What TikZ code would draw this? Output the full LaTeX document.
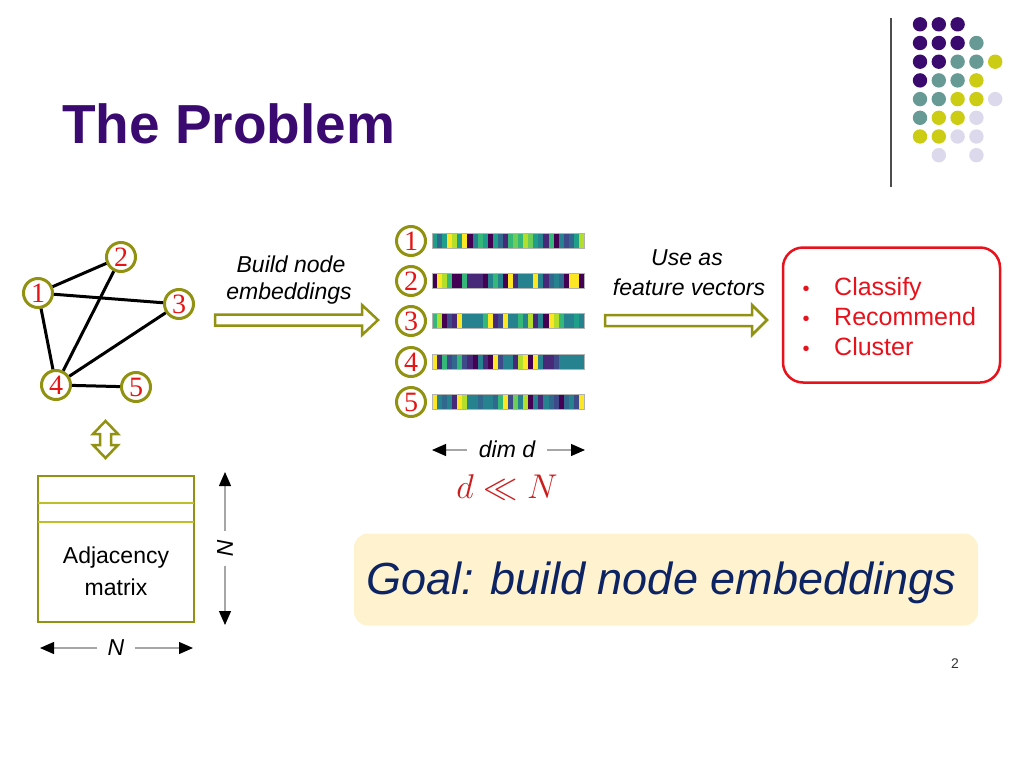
\documentclass[tikz,border=0pt]{standalone}
\usepackage{fontspec}
\setmainfont{Liberation Sans}
\newfontfamily\numfont{Liberation Serif}
\usetikzlibrary{arrows.meta}
\definecolor{titlepurple}{RGB}{59,10,112}
\definecolor{olivec}{RGB}{145,145,18}
\definecolor{olivelight}{RGB}{190,190,40}
\definecolor{numred}{RGB}{230,20,20}
\definecolor{boxred}{RGB}{232,18,28}
\definecolor{mathred}{RGB}{205,30,30}
\definecolor{goalfill}{RGB}{254,243,206}
\definecolor{goaltext}{RGB}{12,35,100}
\definecolor{dP}{RGB}{58,10,110}
\definecolor{dT}{RGB}{103,154,148}
\definecolor{dY}{RGB}{204,204,20}
\definecolor{dL}{RGB}{220,217,236}
\definecolor{v0}{HTML}{440154}
\definecolor{v1}{HTML}{482878}
\definecolor{v2}{HTML}{3E4A89}
\definecolor{v3}{HTML}{31688E}
\definecolor{v4}{HTML}{26828E}
\definecolor{v5}{HTML}{1F9E89}
\definecolor{v6}{HTML}{35B779}
\definecolor{v7}{HTML}{6DCD59}
\definecolor{v8}{HTML}{B4DE2C}
\definecolor{v9}{HTML}{FDE725}
\tikzset{
  gnode/.style={circle, draw=olivec, line width=3pt, fill=white, minimum size=29pt, inner sep=0pt,
    font=\numfont\fontsize{28}{28}\selectfont, text=numred},
  edge/.style={line width=3pt, black},
  blockarrow/.style={draw=olivec, line width=2.5pt, fill=white, line join=miter},
  thinarr/.style={draw=gray!70, line width=1.2pt, -{Triangle[length=14pt,width=12pt,color=black]}},
  lbl/.style={font=\fontsize{23}{23}\selectfont\itshape, inner sep=0pt},
  txt/.style={font=\fontsize{23}{23}\selectfont, inner sep=0pt},
  redtxt/.style={font=\fontsize{25}{25}\selectfont, text=boxred, inner sep=0pt}
}
\begin{document}
\begin{tikzpicture}[x=1pt,y=-1pt]
\useasboundingbox[fill=white] (0,0) rectangle (1024,768);

% title
\node[anchor=base west, inner sep=0pt, text=titlepurple, font=\fontsize{55}{55}\selectfont\bfseries] (title) at (62,143) {The Problem};

% decoration rule and dots
\draw[line width=1.5pt, black!70] (891,18) -- (891,187);
\foreach \c/\r/\col in {0/0/dP,1/0/dP,2/0/dP,
  0/1/dP,1/1/dP,2/1/dP,3/1/dT,
  0/2/dP,1/2/dP,2/2/dT,3/2/dT,4/2/dY,
  0/3/dP,1/3/dT,2/3/dT,3/3/dY,
  0/4/dT,1/4/dT,2/4/dY,3/4/dY,4/4/dL,
  0/5/dT,1/5/dY,2/5/dY,3/5/dL,
  0/6/dY,1/6/dY,2/6/dL,3/6/dL,
  1/7/dL,3/7/dL}
  \fill[\col] (920+18.8*\c, 24.3+18.7*\r) circle (7.2pt);

% graph
\node[gnode] (g2) at (121,257) {2};
\node[gnode] (g1) at (38,293) {1};
\node[gnode] (g3) at (179,304) {3};
\node[gnode] (g4) at (56,385) {4};
\node[gnode] (g5) at (136,387) {5};
\draw[edge] (g1) -- (g2);
\draw[edge] (g1) -- (g3);
\draw[edge] (g1) -- (g4);
\draw[edge] (g2) -- (g4);
\draw[edge] (g3) -- (g4);
\draw[edge] (g4) -- (g5);

% double arrow graph <-> matrix
\draw[blockarrow] (105.5,421) -- (118,434) -- (111,434) -- (111,445) -- (118,445) -- (105.5,458)
  -- (93,445) -- (100,445) -- (100,434) -- (93,434) -- cycle;

% adjacency matrix
\node[draw=olivec, line width=2.5pt, minimum width=156pt, minimum height=146pt, inner sep=0pt] (adj) at (116,549) {};
\draw[olivelight, line width=2pt] (38,503) -- (194,503);
\draw[olivelight, line width=2pt] (38,522) -- (194,522);
\node[txt, anchor=base] (adjt1) at (116,563) {Adjacency};
\node[txt, anchor=base] (adjt2) at (116,595) {matrix};

% N arrows
\node[lbl, rotate=-90, inner sep=9pt] (Nv) at (225,548) {N};
\coordinate (Ntop) at (225,472);
\coordinate (Nbot) at (225,625);
\draw[thinarr] (Nv.west) -- (Ntop);
\draw[thinarr] (Nv.east) -- (Nbot);
\node[lbl, inner sep=10pt] (Nh) at (116,648) {N};
\coordinate (Nleft) at (40,648);
\coordinate (Nright) at (193,648);
\draw[thinarr] (Nh.west) -- (Nleft);
\draw[thinarr] (Nh.east) -- (Nright);

% build node embeddings
\node[lbl, anchor=base] (b1) at (291,272) {Build node};
\node[lbl, anchor=base] (b2) at (289,299) {embeddings};
\draw[blockarrow] (215,314.5) -- (362,314.5) -- (362,305) -- (378,320) -- (362,335) -- (362,325.5) -- (215,325.5) -- cycle;

% embeddings
\foreach \k/\yy/\seq in {
  1/241/{5,3,5,9,8,5,9,0,4,6,5,0,5,3,1,6,7,6,8,7,5,4,1,6,0,4,2,3,5,8},
  2/281/{0,9,8,6,0,0,6,1,1,1,0,4,6,4,0,9,1,4,4,4,9,4,1,3,4,3,0,9,9,0},
  3/321/{6,8,0,2,1,9,4,4,4,4,6,9,1,2,9,4,4,6,4,8,1,4,0,9,8,6,4,4,5,4},
  4/362/{9,1,6,2,3,6,2,1,0,4,1,0,9,2,4,4,1,8,9,0,9,4,1,1,2,4,4,4,4,4},
  5/402/{9,4,3,4,1,9,8,4,4,3,4,4,3,6,9,2,7,4,8,0,4,1,4,3,2,0,3,4,2,9}}{
  \node[gnode] (e\k) at (411,\yy) {\k};
  \foreach \c [count=\i from 0] in \seq {
    \fill[v\c] (432+\i*5.0667,\yy-7.5) rectangle ++(5.1,15);
  }
  \draw[gray!60, line width=0.6pt] (432,\yy-7.5) rectangle (584,\yy+7.5);
}

% dim d
\node[lbl, inner sep=0pt, anchor=base] (dim) at (507,457) {dim d};
\coordinate (dleft) at (432,450);
\coordinate (dright) at (585,450);
\draw[thinarr] ([xshift=-12pt]dim.west |- dleft) -- (dleft);
\draw[thinarr] ([xshift=12pt]dim.east |- dright) -- (dright);
\node[anchor=base, inner sep=0pt, text=mathred, font=\fontsize{24}{24}\selectfont] (ineq) at (507,498) {\scalebox{1.38}{$d \ll N$}};

% use as feature vectors
\node[lbl, anchor=base] (u1) at (687,265) {Use as};
\node[lbl, anchor=base] (u2) at (689,295) {feature vectors};
\draw[blockarrow] (605,315) -- (752,315) -- (752,305) -- (767,320) -- (752,335) -- (752,326) -- (605,326) -- cycle;

% tasks box
\node[draw=boxred, line width=2.5pt, rounded corners=20pt, minimum width=217pt, minimum height=135pt, inner sep=0pt] (tasks) at (891.5,315) {};
\foreach \t/\yy/\nm in {Classify/295/c, Recommend/325/r, Cluster/355/l}{
  \node[redtxt, anchor=base, font=\fontsize{20}{20}\selectfont] (bul\nm) at (806,\yy) {•};
  \node[redtxt, anchor=base west] (task\nm) at (834,\yy) {\t};
}

% goal
\node[fill=goalfill, rounded corners=14pt, minimum width=624pt, minimum height=92pt, inner sep=0pt] (goal) at (666,579.5) {};
\node[anchor=base west, inner sep=0pt, text=goaltext, font=\fontsize{45}{45}\selectfont\itshape] (goaltxt) at (366,594) {Goal: build node embeddings};

% page number
\node[anchor=base, inner sep=0pt, text=black!80, font=\fontsize{14}{14}\selectfont] (pnum) at (955,668) {2};
\end{tikzpicture}
\end{document}
